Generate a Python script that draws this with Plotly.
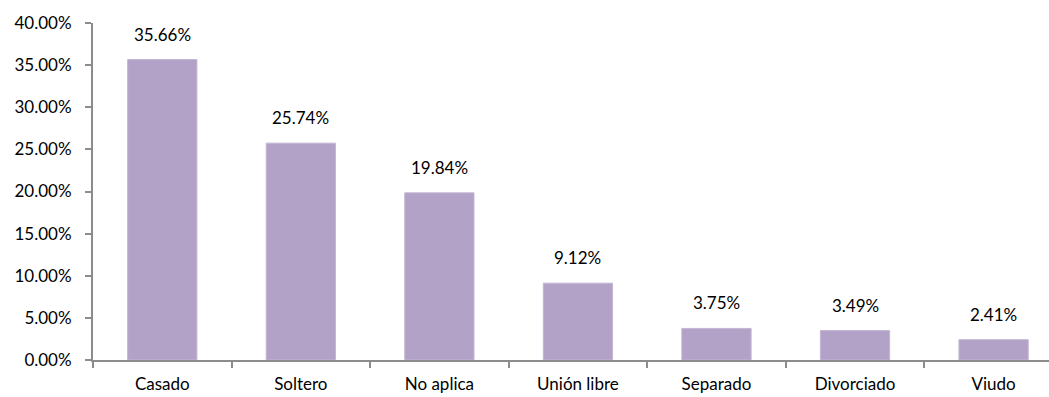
import plotly.graph_objects as go

categories = ["Casado", "Soltero", "No aplica", "Unión libre", "Separado", "Divorciado", "Viudo"]
shares = [35.66, 25.74, 19.84, 9.12, 3.75, 3.49, 2.41]
y_ticks = [0, 5, 10, 15, 20, 25, 30, 35, 40]
y_tick_labels = [f"{v:.2f}%" for v in y_ticks]

axis_gray = "#8c8c8c"
font_family = "Lato, 'Open Sans', sans-serif"
font_size = 17

fig = go.Figure()
fig.add_trace(go.Bar(
    x=categories,
    y=shares,
    width=0.5,
    marker=dict(color="#B2A2C7", line=dict(color="#C3B6D4", width=1)),
    hoverinfo="x+y",
))

for cat, val in zip(categories, shares):
    fig.add_annotation(
        x=cat, y=val, text=f"{val:.2f}%", showarrow=False,
        yanchor="bottom", yshift=13,
        font=dict(family=font_family, size=font_size, color="#000000"),
    )

fig.update_layout(
    width=1049, height=397,
    margin=dict(l=93, r=0, t=23, b=37),
    paper_bgcolor="white", plot_bgcolor="white",
    showlegend=False,
    font=dict(family=font_family, size=font_size, color="#000000"),
    xaxis=dict(
        range=[-0.5, 6.4],
        showline=True, linecolor=axis_gray, linewidth=2,
        ticks="outside", tickson="boundaries", ticklen=6, tickcolor=axis_gray, tickwidth=2,
        showgrid=False, zeroline=False,
        ticklabelstandoff=8,
        tickfont=dict(family=font_family, size=font_size, color="#000000"),
    ),
    yaxis=dict(
        range=[0, 40],
        tickvals=y_ticks, ticktext=y_tick_labels,
        showline=True, linecolor=axis_gray, linewidth=2,
        ticks="outside", ticklen=6, tickcolor=axis_gray, tickwidth=2,
        showgrid=False, zeroline=False,
        ticklabelstandoff=10,
        tickfont=dict(family=font_family, size=font_size, color="#000000"),
    ),
)

fig.write_html("out.html")
